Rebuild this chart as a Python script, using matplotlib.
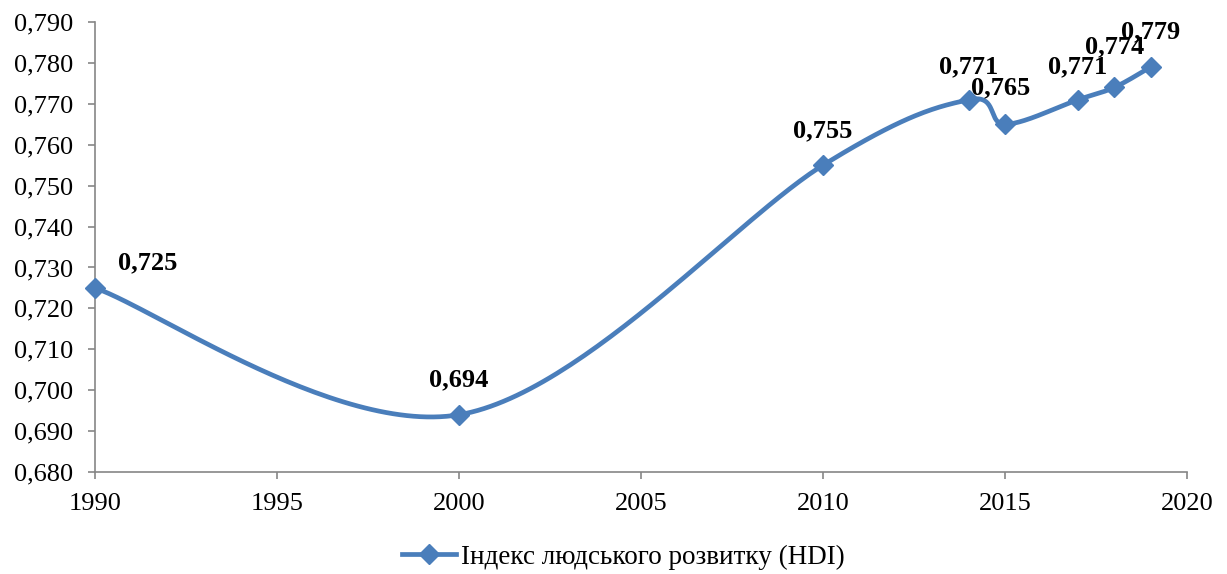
import numpy as np
import matplotlib
matplotlib.use("Agg")
import matplotlib.pyplot as plt
from matplotlib.lines import Line2D

years = [1990, 2000, 2010, 2014, 2015, 2017, 2018, 2019]
hdi = [0.725, 0.694, 0.755, 0.771, 0.765, 0.771, 0.774, 0.779]
labels = ["0,725", "0,694", "0,755", "0,771", "0,765", "0,771", "0,774", "0,779"]
y_ticks = [0.68 + 0.01 * i for i in range(12)]
x_ticks = [1990, 1995, 2000, 2005, 2010, 2015, 2020]
series_name = "Індекс людського розвитку (HDI)"

color = "#4A7EBB"
plt.rcParams["font.family"] = ["Liberation Serif", "DejaVu Serif"]


def smooth(xs, ys, n=60):
    """Cubic Bezier smoothing through all points (Catmull-Rom style)."""
    P = np.column_stack([xs, ys]).astype(float)
    out = []
    for i in range(len(P) - 1):
        p0 = P[i - 1] if i > 0 else P[i]
        p1 = P[i]
        p2 = P[i + 1]
        p3 = P[i + 2] if i + 2 < len(P) else P[i + 1]
        c1 = p1 + (p2 - p0) / 6.0
        c2 = p2 - (p3 - p1) / 6.0
        t = np.linspace(0, 1, n)[:, None]
        seg = ((1 - t) ** 3) * p1 + 3 * ((1 - t) ** 2) * t * c1 + 3 * (1 - t) * t ** 2 * c2 + t ** 3 * p2
        out.append(seg if i == 0 else seg[1:])
    s = np.vstack(out)
    return s[:, 0], s[:, 1]


fig = plt.figure(figsize=(12.27, 5.74), dpi=100)
ax = fig.add_axes([95 / 1227, 1 - 472 / 574, (1187 - 95) / 1227, (472 - 22) / 574])

sx, sy = smooth(years, hdi)
ax.plot(sx, sy, color=color, lw=3.4, solid_capstyle="round", zorder=3, clip_on=False)
ax.plot(years, hdi, linestyle="none", marker="D", ms=10, color=color, zorder=4, clip_on=False)

offsets = [(38, 18), (0, 25), (0, 25), (0, 24), (-3, 26), (0, 24), (0, 29), (0, 25)]
for x, y, lab, (dx, dy) in zip(years, hdi, labels, offsets):
    ax.annotate(lab, (x, y), xytext=(dx, dy), textcoords="offset points",
                ha="center", va="center", fontsize=19, fontweight="bold", zorder=5)

ax.set_xlim(1990, 2020)
ax.set_ylim(0.68, 0.79)
ax.set_xticks(x_ticks)
ax.set_xticklabels([str(v) for v in x_ticks])
ax.set_yticks(y_ticks)
ax.set_yticklabels([f"{v:.3f}".replace(".", ",") for v in y_ticks])
ax.tick_params(axis="both", labelsize=19, color="#868686", length=5, width=1.2)
ax.tick_params(axis="x", pad=10)
ax.tick_params(axis="y", pad=11)

for side in ["top", "right"]:
    ax.spines[side].set_visible(False)
for side in ["left", "bottom"]:
    ax.spines[side].set_color("#868686")
    ax.spines[side].set_linewidth(1.2)

handle = Line2D([], [], color=color, lw=3.4, marker="D", ms=10)
fig.legend([handle], [series_name], loc="center", bbox_to_anchor=(0.508, 1 - 557 / 574),
           frameon=False, fontsize=19.5, handlelength=2.0, handletextpad=0.15)

fig.savefig("out.png", dpi=100)
